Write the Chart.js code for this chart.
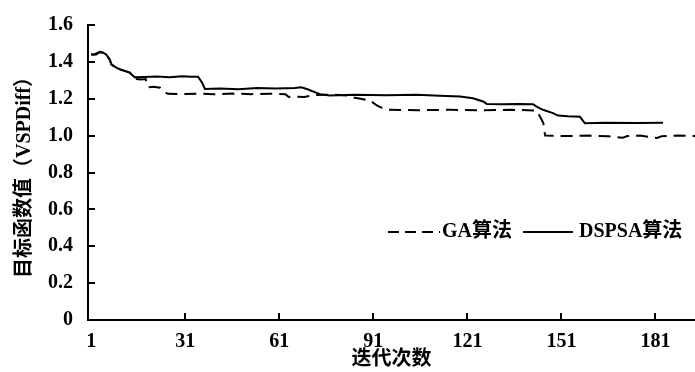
<!DOCTYPE html>
<html>
<head>
<meta charset="utf-8">
<script src="https://cdn.jsdelivr.net/npm/chart.js@4.4.1/dist/chart.umd.min.js"></script>
<style>
  html, body { margin: 0; padding: 0; background: #fff; }
  #wrap { width: 695px; height: 372px; position: relative; }
</style>
</head>
<body>
<div id="wrap"><canvas id="c"></canvas></div>
<script>
// 数据：迭代次数与目标函数值
const gaIter = [1, 2, 3.8, 4.8, 5.8, 6.9, 7.5, 8.9, 10.1, 11.7, 13.3, 14.4, 15, 17, 18.4, 19.2, 21, 23, 24, 25.5, 30, 35, 40, 46, 52, 58, 63, 64, 66, 69, 72, 78, 83, 85, 87, 90, 92, 94, 96, 105, 115, 125, 135, 143.1, 145.2, 145.8, 152, 160, 166, 170.5, 172, 176, 181.5, 183, 188, 193.6];
const gaVal  = [1.44, 1.44, 1.454, 1.45, 1.44, 1.413, 1.385, 1.37, 1.36, 1.351, 1.342, 1.324, 1.307, 1.305, 1.307, 1.262, 1.265, 1.26, 1.24, 1.227, 1.225, 1.228, 1.224, 1.228, 1.225, 1.227, 1.224, 1.21, 1.212, 1.21, 1.22, 1.222, 1.218, 1.205, 1.2, 1.19, 1.165, 1.148, 1.14, 1.138, 1.14, 1.137, 1.14, 1.136, 1.07, 1.0, 0.998, 1.0, 0.996, 0.988, 0.998, 1.0, 0.987, 0.997, 1.0, 0.998];

const dsIter = [1, 2.6, 3.8, 4.8, 5.8, 6.9, 7.5, 8.9, 10.1, 11.7, 13.3, 14.4, 15, 18, 22, 26, 30, 33, 35.1, 36.3, 37.3, 42, 48, 54, 60, 66, 68, 69.8, 72.3, 74, 77, 85, 95, 105, 112, 118.7, 122.8, 126, 127.2, 132, 137, 141.9, 143.1, 145.1, 148.3, 149.9, 153, 156.9, 158.5, 165, 175, 183.4];
const dsVal  = [1.44, 1.44, 1.454, 1.45, 1.44, 1.413, 1.385, 1.37, 1.36, 1.351, 1.342, 1.324, 1.316, 1.318, 1.32, 1.316, 1.322, 1.32, 1.32, 1.29, 1.253, 1.256, 1.252, 1.258, 1.255, 1.258, 1.262, 1.253, 1.236, 1.225, 1.218, 1.222, 1.219, 1.222, 1.216, 1.212, 1.203, 1.185, 1.172, 1.17, 1.172, 1.17, 1.157, 1.14, 1.122, 1.109, 1.105, 1.102, 1.067, 1.07, 1.068, 1.07];

const xTickLabels = [1, 31, 61, 91, 121, 151, 181];
const yTickLabels = ['0', '0.2', '0.4', '0.6', '0.8', '1.0', '1.2', '1.4', '1.6'];
const seriesNames = ['GA算法', 'DSPSA算法'];

const FONT = "'Liberation Serif', 'Noto Sans CJK SC', serif";

const toPoints = (xs, ys) => xs.map((x, i) => ({ x: x, y: ys[i] }));

// 坐标轴内向刻度线
const innerTicks = {
  id: 'innerTicks',
  afterDatasetsDraw(chart) {
    const { ctx, chartArea, scales } = chart;
    ctx.save();
    ctx.strokeStyle = '#000';
    ctx.lineWidth = 2;
    ctx.beginPath();
    xTickLabels.slice(1).forEach(v => {
      const px = Math.round(scales.x.getPixelForValue(v));
      ctx.moveTo(px, chartArea.bottom);
      ctx.lineTo(px, chartArea.bottom - 7);
    });
    yTickLabels.slice(1).forEach(t => {
      const py = Math.round(scales.y.getPixelForValue(parseFloat(t)));
      ctx.moveTo(chartArea.left, py);
      ctx.lineTo(chartArea.left + 7, py);
    });
    ctx.stroke();
    ctx.restore();
  }
};

// 图例（画在绘图区内部）
const innerLegend = {
  id: 'innerLegend',
  afterDraw(chart) {
    const { ctx, chartArea } = chart;
    const y = chartArea.top + 207;
    const x0 = chartArea.left + 300;
    ctx.save();
    ctx.strokeStyle = '#000';
    ctx.lineWidth = 2;
    ctx.setLineDash([11, 6]);
    ctx.beginPath();
    ctx.moveTo(x0, y);
    ctx.lineTo(x0 + 52, y);
    ctx.stroke();
    ctx.setLineDash([]);
    ctx.beginPath();
    ctx.moveTo(x0 + 135, y);
    ctx.lineTo(x0 + 185, y);
    ctx.stroke();
    ctx.fillStyle = '#000';
    ctx.font = 'bold 20px ' + FONT;
    ctx.textBaseline = 'middle';
    ctx.textAlign = 'left';
    ctx.fillText(seriesNames[0], x0 + 54, y);
    ctx.fillText(seriesNames[1], x0 + 191, y);
    ctx.restore();
  }
};

new Chart(document.getElementById('c'), {
  type: 'line',
  data: {
    datasets: [
      {
        label: seriesNames[0],
        data: toPoints(gaIter, gaVal),
        borderColor: '#000',
        borderWidth: 2,
        borderDash: [12, 7],
        pointRadius: 0,
        fill: false,
        tension: 0
      },
      {
        label: seriesNames[1],
        data: toPoints(dsIter, dsVal),
        borderColor: '#000',
        borderWidth: 2,
        pointRadius: 0,
        fill: false,
        tension: 0
      }
    ]
  },
  options: {
    responsive: true,
    maintainAspectRatio: false,
    animation: false,
    layout: { padding: { top: 20, right: 0, left: 0, bottom: 0 } },
    plugins: {
      legend: { display: false },
      tooltip: { enabled: false }
    },
    scales: {
      x: {
        type: 'linear',
        min: 0,
        max: 193.6,
        afterBuildTicks: s => { s.ticks = xTickLabels.map(v => ({ value: v })); },
        afterFit: s => { s.height = 52; },
        ticks: {
          color: '#000',
          padding: 12,
          maxRotation: 0,
          autoSkip: false,
          font: { family: FONT, size: 20, weight: 'bold', lineHeight: 1 },
          callback: v => String(v)
        },
        grid: { drawOnChartArea: false, drawTicks: false },
        border: { display: true, color: '#000', width: 2 },
        title: {
          display: true,
          text: '迭代次数',
          color: '#000',
          padding: { top: 0, bottom: 2 },
          font: { family: FONT, size: 20, weight: 'bold', lineHeight: 1 }
        }
      },
      y: {
        min: 0,
        max: 1.6,
        afterFit: s => { s.width = 88; },
        ticks: {
          stepSize: 0.2,
          color: '#000',
          padding: 15,
          font: { family: FONT, size: 20, weight: 'bold', lineHeight: 1 },
          callback: (v, i) => yTickLabels[i]
        },
        grid: { drawOnChartArea: false, drawTicks: false },
        border: { display: true, color: '#000', width: 2 },
        title: {
          display: true,
          text: '目标函数值（VSPDiff）',
          color: '#000',
          padding: { top: 14, bottom: 0 },
          font: { family: FONT, size: 20, weight: 'bold', lineHeight: 1.1 }
        }
      }
    }
  },
  plugins: [innerTicks, innerLegend]
});
</script>
</body>
</html>
